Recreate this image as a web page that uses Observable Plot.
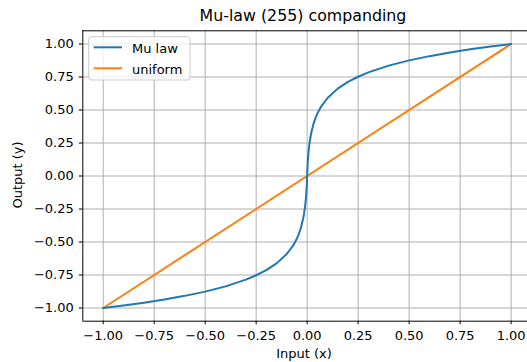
<!DOCTYPE html>
<html>
<head>
<meta charset="utf-8">
<script src="https://cdn.jsdelivr.net/npm/d3@7"></script>
<script src="https://cdn.jsdelivr.net/npm/@observablehq/plot@0.6"></script>
<style>
  body { margin: 0; background: #fff; }
  svg { overflow: hidden; }
</style>
</head>
<body>
<div id="chart"></div>
<script>
// Mu-law (mu = 255) transfer curve, sampled densely around the origin
const muX = [-1, -0.9, -0.8, -0.7, -0.6, -0.5, -0.4, -0.3, -0.25, -0.2, -0.15, -0.1, -0.07, -0.05, -0.04, -0.03, -0.02, -0.015, -0.01, -0.006, -0.004, -0.002, -0.001,
             0,
             0.001, 0.002, 0.004, 0.006, 0.01, 0.015, 0.02, 0.03, 0.04, 0.05, 0.07, 0.1, 0.15, 0.2, 0.25, 0.3, 0.4, 0.5, 0.6, 0.7, 0.8, 0.9, 1];
const muY = [-1, -0.981, -0.960, -0.936, -0.908, -0.876, -0.836, -0.785, -0.752, -0.713, -0.662, -0.591, -0.530, -0.473, -0.436, -0.389, -0.326, -0.284, -0.228, -0.167, -0.127, -0.074, -0.041,
             0,
             0.041, 0.074, 0.127, 0.167, 0.228, 0.284, 0.326, 0.389, 0.436, 0.473, 0.530, 0.591, 0.662, 0.713, 0.752, 0.785, 0.836, 0.876, 0.908, 0.936, 0.960, 0.981, 1];

// Uniform (identity) mapping
const uniX = [-1, 1];
const uniY = [-1, 1];

const tickValues = [-1, -0.75, -0.5, -0.25, 0, 0.25, 0.5, 0.75, 1];
const seriesNames = ["Mu law", "uniform"];
const seriesColors = ["#1f77b4", "#ff7f0e"];
const titleText = "Mu-law (255) companding";
const xLabel = "Input (x)";
const yLabel = "Output (y)";

const muData = muX.map((x, i) => ({x, y: muY[i]}));
const uniData = uniX.map((x, i) => ({x, y: uniY[i]}));

const W = 527, H = 362;
const axLeft = 82.3, axTop = 30.3, axBottom = 320.7, axRight = 531;
const fmt = d3.format(".2f");
const gridStyle = {stroke: "#b0b0b0", strokeOpacity: 1, strokeWidth: 1};
const lineWidth = 2;
const font = "'DejaVu Sans', sans-serif";

const chart = Plot.plot({
  width: W,
  height: H,
  marginLeft: axLeft,
  marginTop: axTop,
  marginBottom: H - axBottom,
  marginRight: 0,
  style: {fontFamily: font, fontSize: "13px", color: "#000", background: "#fff"},
  x: {domain: [-1.1, 1.1], range: [axLeft, axRight]},
  y: {domain: [-1.1, 1.1], range: [axBottom, axTop]},
  marks: [
    Plot.gridX(tickValues, gridStyle),
    Plot.gridY(tickValues, gridStyle),
    Plot.line(uniData, {x: "x", y: "y", stroke: seriesColors[1], strokeWidth: lineWidth}),
    Plot.line(muData, {x: "x", y: "y", stroke: seriesColors[0], strokeWidth: lineWidth}),
    Plot.axisX(tickValues, {anchor: "bottom", tickSize: 3.5, tickPadding: 6.5, strokeWidth: 1, tickFormat: fmt, label: null, fontSize: 13}),
    Plot.axisY(tickValues, {anchor: "left", tickSize: 3.5, tickPadding: 5.5, strokeWidth: 1, tickFormat: fmt, label: null, fontSize: 13}),
    Plot.ruleX([-1.1], {stroke: "#000", strokeWidth: 1}),
    Plot.ruleY([-1.1, 1.1], {stroke: "#000", strokeWidth: 1})
  ]
});

const svg = d3.select(chart);

// Title and axis labels
svg.append("text")
  .attr("x", 303).attr("y", 21)
  .attr("text-anchor", "middle")
  .attr("font-family", font).attr("font-size", 15.8).attr("fill", "#000")
  .text(titleText);
svg.append("text")
  .attr("x", 304).attr("y", 357.5)
  .attr("text-anchor", "middle")
  .attr("font-family", font).attr("font-size", 13).attr("fill", "#000")
  .text(xLabel);
svg.append("text")
  .attr("transform", "translate(22.2,175) rotate(-90)")
  .attr("text-anchor", "middle")
  .attr("font-family", font).attr("font-size", 13).attr("fill", "#000")
  .text(yLabel);

// Legend box
const legend = svg.append("g");
legend.append("rect")
  .attr("x", 88.7).attr("y", 36.7).attr("width", 101.3).attr("height", 43.3)
  .attr("rx", 2.5)
  .attr("fill", "#fff").attr("fill-opacity", 0.8)
  .attr("stroke", "#cccccc").attr("stroke-width", 1);
seriesNames.forEach((name, i) => {
  const cy = 47.3 + i * 21;
  legend.append("line")
    .attr("x1", 93.7).attr("x2", 122).attr("y1", cy).attr("y2", cy)
    .attr("stroke", seriesColors[i]).attr("stroke-width", lineWidth);
  legend.append("text")
    .attr("x", 132).attr("y", cy + 5.2)
    .attr("text-anchor", "start")
    .attr("font-family", font).attr("font-size", 13).attr("fill", "#000")
    .text(name);
});

document.getElementById("chart").appendChild(chart);
</script>
</body>
</html>
